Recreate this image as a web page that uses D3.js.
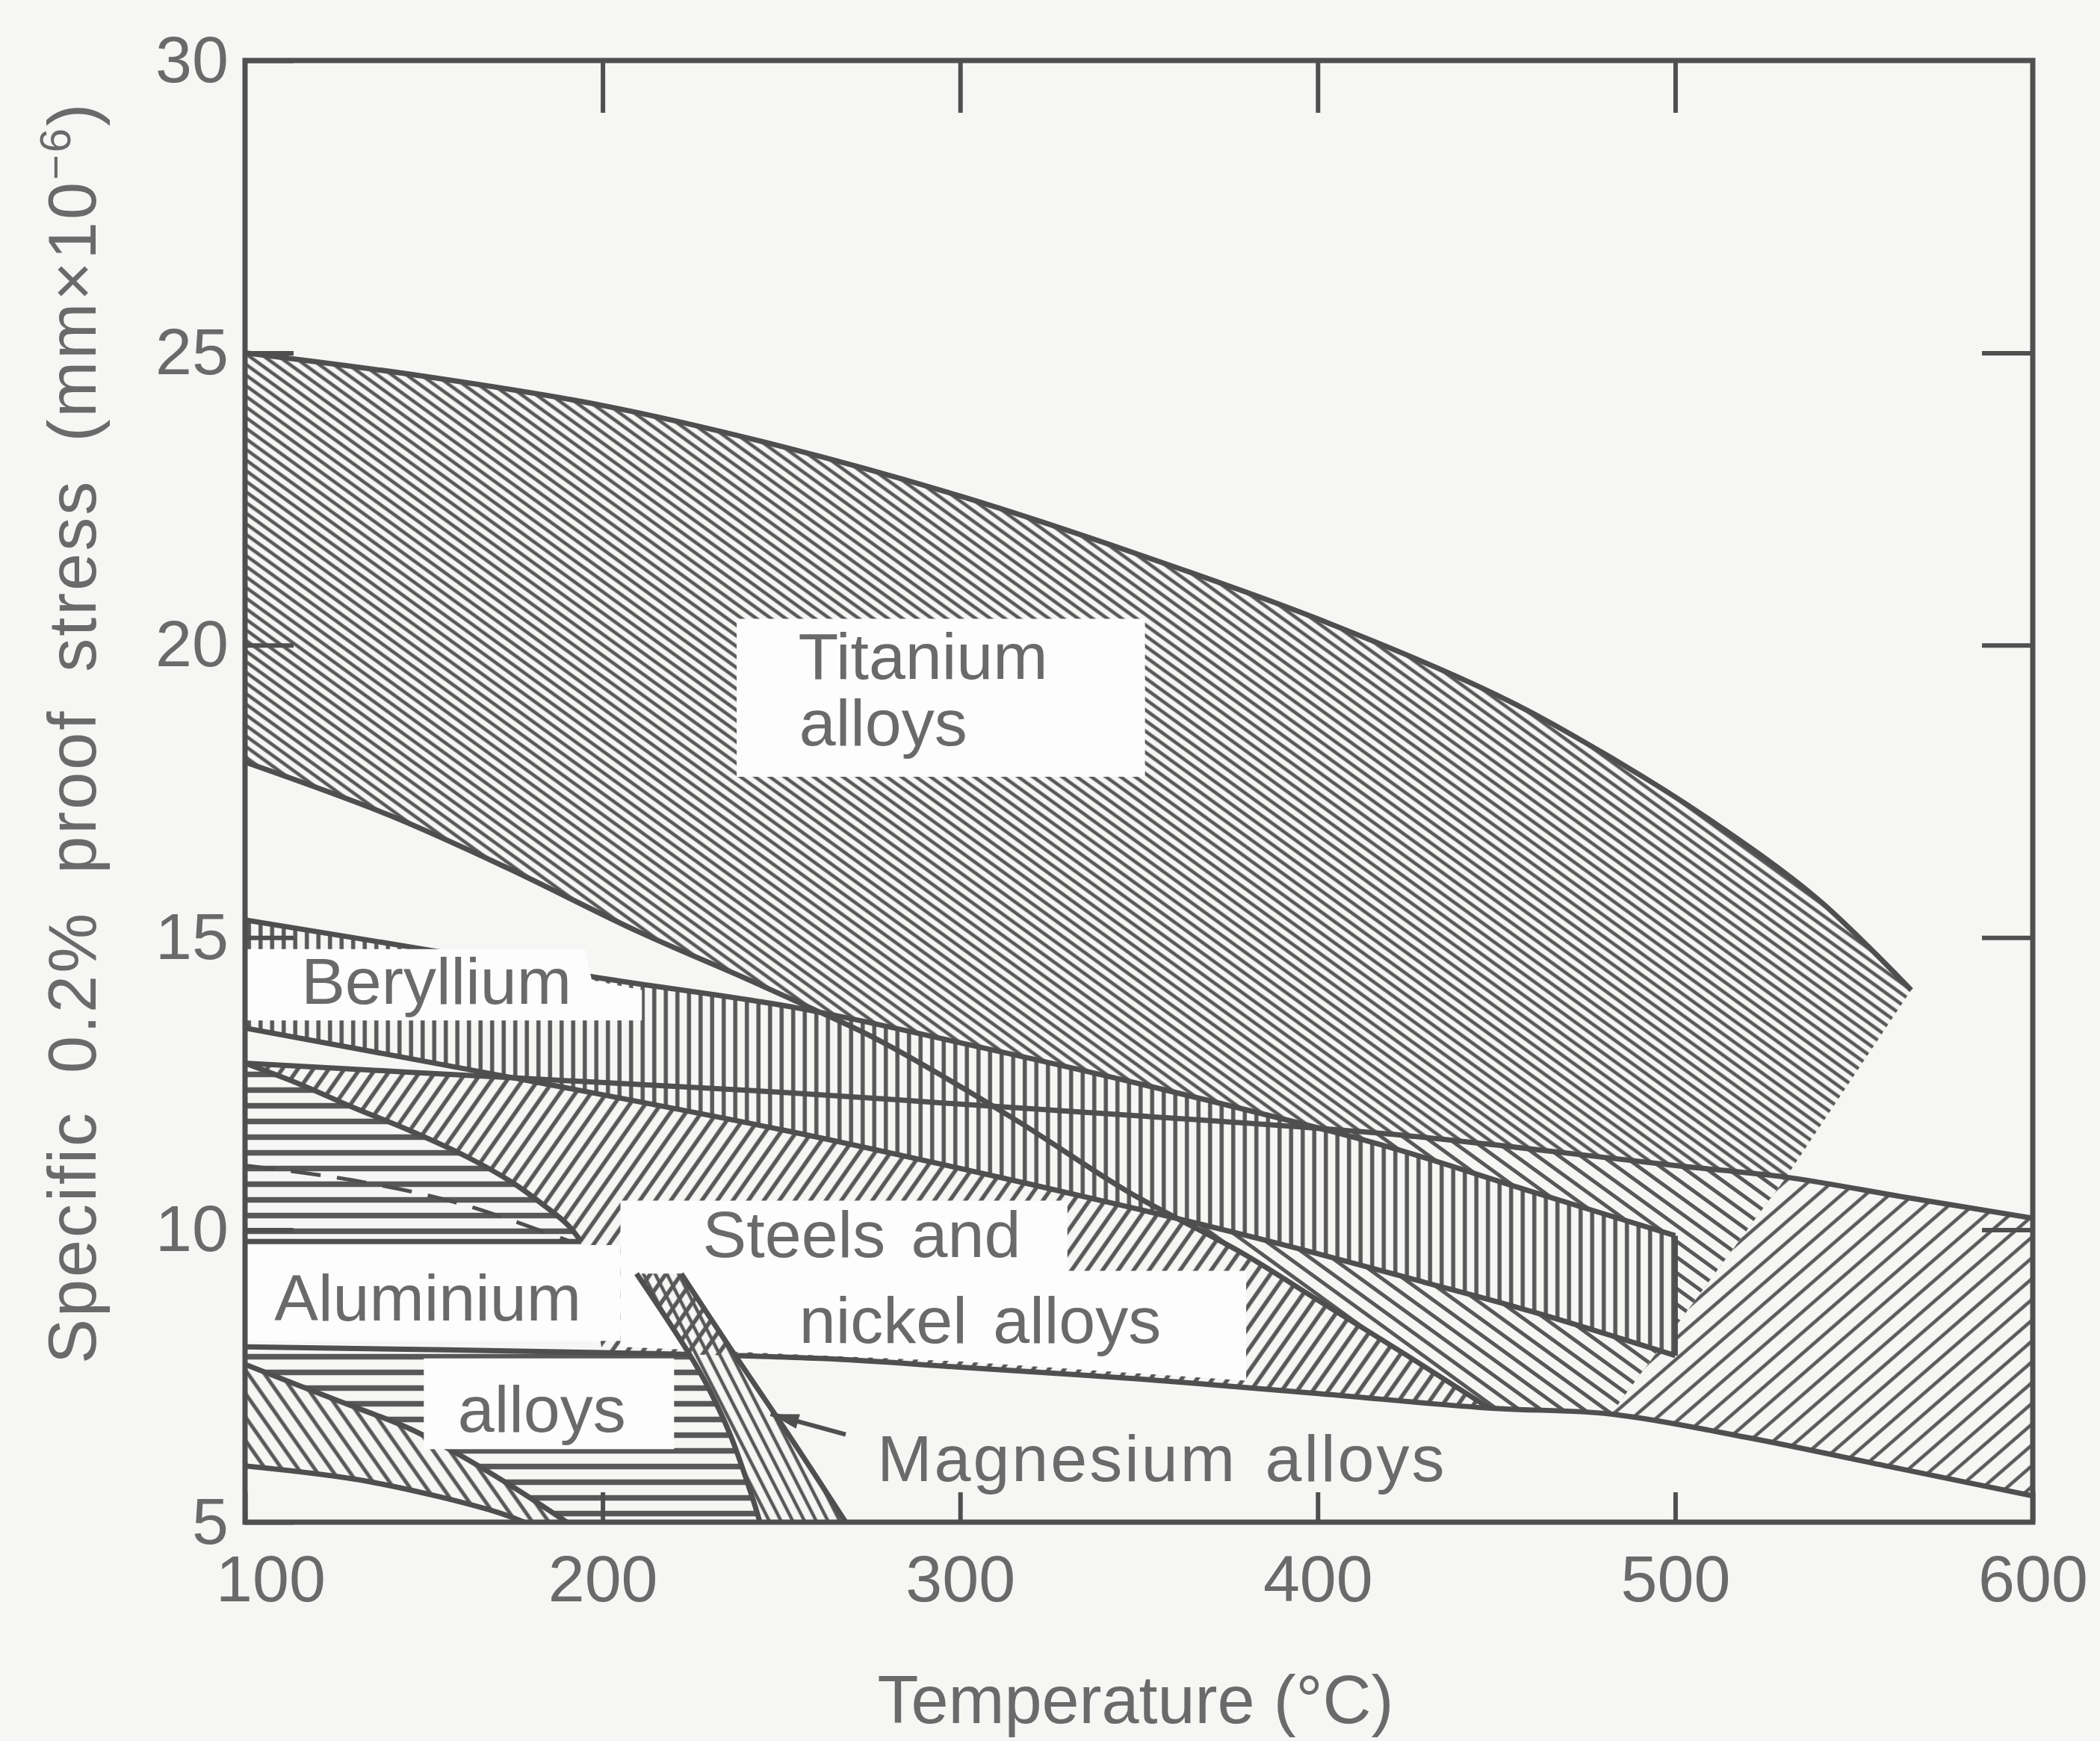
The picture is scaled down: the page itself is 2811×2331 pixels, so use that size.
<!DOCTYPE html>
<html>
<head>
<meta charset="utf-8">
<script src="https://cdnjs.cloudflare.com/ajax/libs/d3/7.8.5/d3.min.js"></script>
<style>
  html, body { margin: 0; padding: 0; background: #f6f6f4; }
  svg { display: block; }
</style>
</head>
<body>
<script>
// axis ticks
const xTicks = [100, 200, 300, 400, 500, 600];   // temperature, °C
const yTicks = [5, 10, 15, 20, 25, 30];          // specific 0.2% proof stress

// band boundaries: [temperature, specific stress]
const titaniumUpper = [[100, 25.0], [150, 24.6], [200, 24.1], [250, 23.4], [300, 22.55], [350, 21.55],
  [400, 20.45], [450, 19.15], [480, 18.15], [510, 17.0], [540, 15.65], [566, 14.1]];
const titaniumLower = [[100, 18.0], [140, 17.1], [173, 16.2], [210, 15.1], [240, 14.3], [258, 13.8],
  [277, 13.25], [315, 11.9], [347, 10.65], [379, 9.6], [400, 8.8], [425, 7.85], [448, 6.95]];
const titaniumEdge = [[566, 14.1], [531, 10.9], [482, 6.85]];   // where the hatching stops
const berylliumUpper = [[100, 15.3], [150, 14.8], [200, 14.3], [254, 13.8], [300, 13.2], [350, 12.5],
  [418, 11.45], [460, 10.65], [500, 9.9]];
const berylliumLower = [[100, 13.45], [175, 12.6], [251, 11.7], [300, 11.05], [350, 10.35], [390, 9.75],
  [430, 9.1], [460, 8.6], [500, 7.85]];
const steelsUpper = [[100, 12.85], [175, 12.6], [251, 12.35], [300, 12.15], [350, 11.95], [418, 11.65],
  [450, 11.45], [500, 11.1], [531, 10.9], [565, 10.55], [600, 10.2]];
const steelsLower = [[100, 8.0], [200, 7.9], [261, 7.8], [300, 7.65], [350, 7.45], [400, 7.2],
  [448, 6.95], [482, 6.85], [520, 6.45], [560, 5.95], [600, 5.45]];
const aluminiumEdge = [[100, 12.85], [115, 12.5], [130, 12.1], [146, 11.7], [162, 11.25], [175, 10.8],
  [184, 10.4], [190, 10.1], [194, 9.8]];
const aluminiumStep = [[100, 9.8], [194, 9.8]];
const aluminiumInner = [[100, 11.1], [130, 10.85], [160, 10.45], [191, 9.8]];
const magnesiumWedgeUpper = [[100, 7.7], [125, 7.1], [146, 6.6], [160, 6.15], [175, 5.6], [190, 5.0]];
const magnesiumWedgeLower = [[100, 5.96], [135, 5.69], [170, 5.18], [178, 5.0]];
const magnesiumBandLeft = [[209.5, 9.25], [224, 7.9], [230, 7.25], [236, 6.45], [242, 5.4], [244, 5.0]];
const magnesiumBandRight = [[222, 9.25], [236, 7.95], [252, 6.5], [268, 5.0]];
const magnesiumArrow = [[268, 6.5], [247, 6.85]];

// annotations (data units)
const labelBoxes = [
  [[237.5, 20.45], [351.7, 20.45], [351.7, 17.75], [237.5, 17.75]],
  [[100, 14.8], [195, 14.8], [197, 14.27], [211, 14.1], [211, 13.58], [100, 13.58]],
  [[205, 10.5], [330, 10.5], [330, 9.3], [380, 9.3], [380, 7.42], [300, 7.75], [205, 8.0]],
  [[100, 9.74], [205, 9.74], [205, 8.1], [100, 8.1]],
  [[150, 7.8], [220, 7.8], [220, 6.25], [150, 6.25]]
];
const labels = [
  {text: "Titanium", at: [254.7, 19.42]},
  {text: "alloys", at: [255, 18.28]},
  {text: "Beryllium", at: [115.7, 13.86]},
  {text: "Steels and", at: [228, 9.53]},
  {text: "nickel alloys", at: [255, 8.07]},
  {text: "Aluminium", at: [108.2, 8.45]},
  {text: "alloys", at: [159.5, 6.55]},
  {text: "Magnesium alloys", at: [276.8, 5.7]}
];

// look
const BG = "#f6f6f4", BOX = "#fdfdfd", INK = "#4f4f4f", HATCH = "#585858", TXT = "#6a6a6a";
const FONT = "'Liberation Sans', Arial, Helvetica, sans-serif";
const W = 2811, H = 2331;
const M = {left: 328, right: 2721, top: 81, bottom: 2038};

const x = d3.scaleLinear().domain([xTicks[0], xTicks[xTicks.length - 1]]).range([M.left, M.right]);
const y = d3.scaleLinear().domain([yTicks[0], yTicks[yTicks.length - 1]]).range([M.bottom, M.top]);

const svg = d3.select("body").append("svg").attr("width", W).attr("height", H);
svg.append("rect").attr("width", W).attr("height", H).attr("fill", BG);
const defs = svg.append("defs");

function hatch(id, angle, gap, width) {
  const p = defs.append("pattern")
    .attr("id", id)
    .attr("patternUnits", "userSpaceOnUse")
    .attr("width", gap).attr("height", gap)
    .attr("patternTransform", `rotate(${angle})`);
  p.append("line")
    .attr("x1", 0).attr("x2", gap)
    .attr("y1", gap / 2).attr("y2", gap / 2)
    .attr("stroke", HATCH).attr("stroke-width", width);
}
hatch("ti", 36, 11.5, 4.6);
hatch("tiCoarse", 36, 17, 5);
hatch("be", 90, 15.5, 5.5);
hatch("steel", -55, 17, 5.5);
hatch("steelRight", -41, 21, 4.5);
hatch("al", 0, 21, 7.5);
hatch("mgWedge", 55, 18, 5);
hatch("mgBand", 63, 14, 4.5);

const curve = d3.line()
  .x(d => x(d[0]))
  .y(d => y(d[1]))
  .curve(d3.curveCatmullRom.alpha(0.5));

// join several boundary pieces into one closed outline
function outline(...segs) {
  return segs.map((s, i) => {
    if (s.length === 1) return (i ? "L" : "M") + x(s[0][0]) + "," + y(s[0][1]);
    const d = curve(s);
    return i ? d.replace(/^M/, "L") : d;
  }).join("") + "Z";
}
const rev = a => a.slice().reverse();

const steelsPath = outline(steelsUpper, rev(steelsLower).filter(d => d[0] >= 200), rev(aluminiumEdge));
const steelsRightPath = outline(steelsUpper.filter(d => d[0] >= 531), rev(steelsLower.filter(d => d[0] >= 482)));
const tiPath = outline(titaniumUpper, titaniumEdge.slice(1),
  rev(steelsLower.filter(d => d[0] >= 448 && d[0] < 482)), rev(titaniumLower).slice(1));
const bePath = outline(berylliumUpper, rev(berylliumLower));
const alTopPath = outline(aluminiumEdge, [[100, 9.8]]);
const alBottomPath = outline(steelsLower.filter(d => d[0] <= 200),
  magnesiumBandLeft.filter(d => d[1] <= 7.9), rev(magnesiumWedgeUpper));
const mgWedgePath = outline(magnesiumWedgeUpper, rev(magnesiumWedgeLower));
const mgBandPath = outline(magnesiumBandLeft, rev(magnesiumBandRight));

defs.append("clipPath").attr("id", "plotClip").append("rect")
  .attr("x", M.left).attr("y", M.top)
  .attr("width", M.right - M.left).attr("height", M.bottom - M.top);
defs.append("clipPath").attr("id", "steelClip").append("path").attr("d", steelsPath);

const plot = svg.append("g").attr("clip-path", "url(#plotClip)");

function region(g, d, pattern, solid) {
  if (solid) g.append("path").attr("d", d).attr("fill", BG);
  g.append("path").attr("d", d).attr("fill", `url(#${pattern})`);
}

region(plot, steelsPath, "steel");
region(plot, steelsRightPath, "steelRight", true);
region(plot, tiPath, "ti", true);
// titanium inside the steels band is drawn with a coarser hatch
region(plot.append("g").attr("clip-path", "url(#steelClip)"), tiPath, "tiCoarse", true);
region(plot, bePath, "be", true);
region(plot, alTopPath, "al", true);
region(plot, alBottomPath, "al", true);
region(plot, mgWedgePath, "mgWedge", true);

const boundaries = [titaniumUpper, titaniumLower, berylliumUpper, berylliumLower,
  [berylliumUpper[berylliumUpper.length - 1], berylliumLower[berylliumLower.length - 1]],
  steelsUpper, steelsLower, aluminiumEdge, aluminiumStep, magnesiumWedgeUpper, magnesiumWedgeLower];

plot.selectAll("path.edge")
  .data(boundaries)
  .join("path")
  .attr("class", "edge")
  .attr("d", curve)
  .attr("fill", "none")
  .attr("stroke", INK)
  .attr("stroke-width", 7)
  .attr("stroke-linejoin", "round");

plot.append("path")
  .attr("d", curve(aluminiumInner))
  .attr("fill", "none")
  .attr("stroke", INK)
  .attr("stroke-width", 5)
  .attr("stroke-dasharray", "40 22");

// white label areas
plot.selectAll("path.box")
  .data(labelBoxes)
  .join("path")
  .attr("class", "box")
  .attr("d", d => d3.line().x(p => x(p[0])).y(p => y(p[1]))(d) + "Z")
  .attr("fill", BOX);

// magnesium band sits on top, crossing the steels hatching at its head
plot.append("path").attr("d", mgBandPath).attr("fill", BG);
plot.append("g").attr("clip-path", "url(#steelClip)")
  .append("path").attr("d", mgBandPath).attr("fill", "url(#steel)");
plot.append("path").attr("d", mgBandPath).attr("fill", "url(#mgBand)");
[magnesiumBandLeft, magnesiumBandRight].forEach(s => {
  plot.append("path").attr("d", curve(s)).attr("fill", "none")
    .attr("stroke", INK).attr("stroke-width", 7);
});

// leader arrow to the magnesium band
const [tail, tip] = magnesiumArrow.map(d => [x(d[0]), y(d[1])]);
plot.append("line")
  .attr("x1", tail[0]).attr("y1", tail[1]).attr("x2", tip[0]).attr("y2", tip[1])
  .attr("stroke", INK).attr("stroke-width", 6);
const ang = Math.atan2(tip[1] - tail[1], tip[0] - tail[0]);
const hl = 38, hw = 10;
const bx = tip[0] - hl * Math.cos(ang), by = tip[1] - hl * Math.sin(ang);
plot.append("path")
  .attr("d", `M${tip[0]},${tip[1]}L${bx - hw * Math.sin(ang)},${by + hw * Math.cos(ang)}L${bx + hw * Math.sin(ang)},${by - hw * Math.cos(ang)}Z`)
  .attr("fill", INK);

// region labels
svg.append("g").selectAll("text")
  .data(labels)
  .join("text")
  .attr("x", d => x(d.at[0]))
  .attr("y", d => y(d.at[1]))
  .attr("font-family", FONT)
  .attr("font-size", 88)
  .attr("letter-spacing", d => d.text.startsWith("Magnesium") ? 3 : 0)
  .attr("word-spacing", 10)
  .attr("fill", TXT)
  .text(d => d.text);

// frame and inward ticks
function styleAxis(g) {
  g.select(".domain").remove();
  g.selectAll(".tick line").attr("stroke", INK).attr("stroke-width", 6);
  g.selectAll(".tick text").attr("font-family", FONT).attr("font-size", 88).attr("fill", TXT);
}

svg.append("g")
  .attr("transform", `translate(0,${M.bottom})`)
  .call(d3.axisBottom(x).tickValues(xTicks).tickSize(-40).tickPadding(44))
  .call(styleAxis)
  .selectAll(".tick text").filter(d => d === xTicks[0]).attr("dx", 34);

svg.append("g")
  .attr("transform", `translate(0,${M.top})`)
  .call(d3.axisTop(x).tickValues(xTicks.slice(1, -1)).tickSize(-70).tickFormat(""))
  .call(styleAxis);

svg.append("g")
  .attr("transform", `translate(${M.left},0)`)
  .call(d3.axisLeft(y).tickValues(yTicks).tickSize(-65).tickPadding(22))
  .call(styleAxis);

svg.append("g")
  .attr("transform", `translate(${M.right},0)`)
  .call(d3.axisRight(y).tickValues(yTicks.slice(1, -1)).tickSize(-68).tickFormat(""))
  .call(styleAxis);

svg.append("rect")
  .attr("x", M.left).attr("y", M.top)
  .attr("width", M.right - M.left).attr("height", M.bottom - M.top)
  .attr("fill", "none")
  .attr("stroke", INK)
  .attr("stroke-width", 7);

// axis titles
svg.append("text")
  .attr("x", 1520)
  .attr("y", 2307)
  .attr("text-anchor", "middle")
  .attr("font-family", FONT)
  .attr("font-size", 90)
  .attr("fill", TXT)
  .text("Temperature (°C)");

const yTitle = svg.append("text")
  .attr("transform", "translate(128,981) rotate(-90)")
  .attr("text-anchor", "middle")
  .attr("font-family", FONT)
  .attr("font-size", 90)
  .attr("letter-spacing", 3)
  .attr("word-spacing", 22)
  .attr("fill", TXT);
yTitle.append("tspan").text("Specific 0.2% proof stress (mm\u00d710");
yTitle.append("tspan").attr("font-size", 58).attr("dy", -34).text("\u22126");
yTitle.append("tspan").attr("dy", 34).text(")");
</script>
</body>
</html>
